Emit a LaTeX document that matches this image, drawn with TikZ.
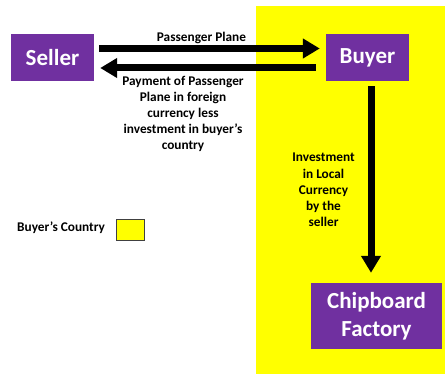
\documentclass[tikz,border=0pt]{standalone}
\usepackage{fontspec}
\setmainfont{Carlito}
\usetikzlibrary{arrows.meta}
\definecolor{boxpurple}{RGB}{112,48,160}
\definecolor{zoneyellow}{RGB}{255,255,0}
\definecolor{legendedge}{RGB}{64,64,64}
\tikzset{
  party/.style={fill=boxpurple, text=white, font=\fontsize{23}{28}\selectfont\bfseries,
    align=center, inner sep=0pt, minimum width=83pt, minimum height=47pt},
  flow/.style={line width=7pt, -{Triangle[length=17pt,width=19pt]}},
  note/.style={font=\fontsize{13.3}{16.2}\selectfont\bfseries, align=center, inner sep=0pt}
}
\begin{document}
\begin{tikzpicture}[x=1pt,y=1pt]
  \useasboundingbox (0,0) rectangle (445,374);
  % buyer's country zone
  \fill[zoneyellow] (256,0) rectangle (445,368);

  % parties
  \node[party] (seller) at (52.5,316.5) {Seller};
  \node[party] (buyer) at (367.5,316.5) {Buyer};
  \node[party, minimum width=131pt, minimum height=66pt] (chip) at (376.5,58) {Chipboard\\Factory};

  % flows between the parties
  \draw[flow, shorten <=5pt, shorten >=6pt] ([yshift=9pt]seller.east) -- ([yshift=9pt]buyer.west);
  \draw[flow, shorten <=10pt, shorten >=6pt] ([yshift=-10.5pt]buyer.west) -- ([yshift=-10.5pt]seller.east);
  \draw[flow, shorten <=5pt, shorten >=10pt] ([xshift=3.5pt]buyer.south) -- ([xshift=-5.5pt]chip.north);

  % flow labels
  \node[note, anchor=base] (plane) at (201.5,332) {Passenger Plane};
  \node[note] (payment) at (183,260) {Payment of Passenger\\Plane in foreign\\currency less\\investment in buyer’s\\country};
  \node[note] (invest) at (323.5,184) {Investment\\in Local\\Currency\\by the\\seller};

  % legend
  \node[note, anchor=base west] (legendtext) at (17,142) {Buyer’s Country};
  \draw[fill=zoneyellow, draw=legendedge, line width=1pt] (116,133) rectangle (144,154);
\end{tikzpicture}
\end{document}
